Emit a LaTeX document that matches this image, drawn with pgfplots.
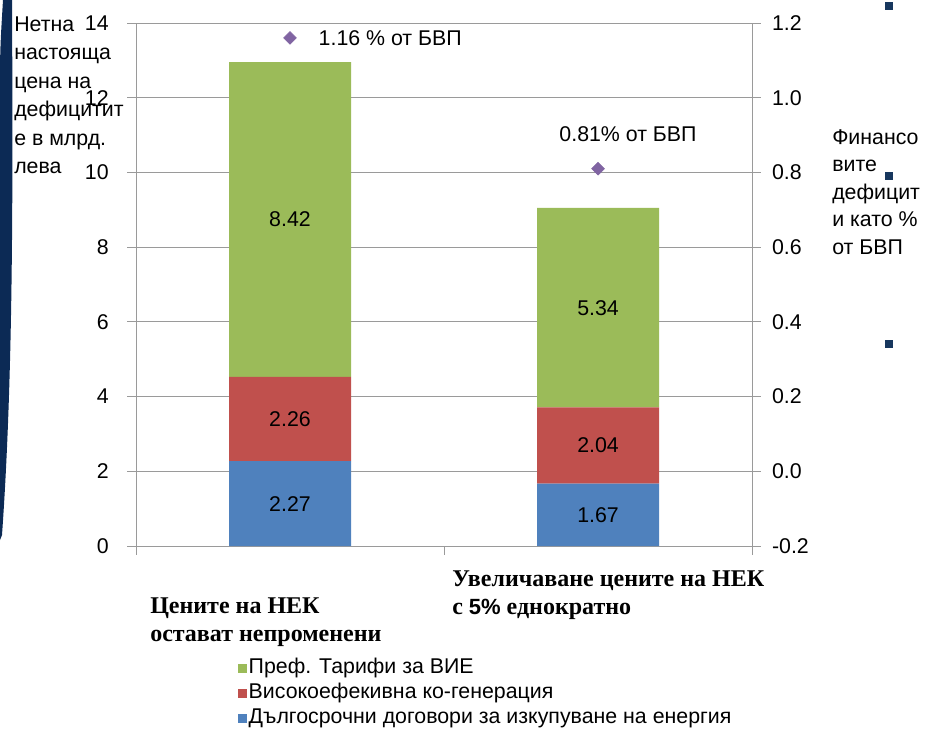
\documentclass[border=0pt]{standalone}
\usepackage{fontspec}
\setmainfont{Liberation Sans}
\newfontfamily\tnr{Liberation Serif}
\usepackage{pgfplots}
\pgfplotsset{compat=1.18}
\definecolor{greenC}{HTML}{9BBB59}
\definecolor{redC}{HTML}{C0504D}
\definecolor{blueC}{HTML}{4F81BD}
\definecolor{purpleC}{HTML}{8064A2}
\definecolor{gridC}{HTML}{9A9A9A}
\definecolor{navyC}{HTML}{0C2A55}
\definecolor{bulletC}{HTML}{17375E}
\newcommand\fs{\fontsize{16}{18}\selectfont}
\newcommand\tf{\fontsize{18}{21}\selectfont\tnr\bfseries}
\begin{document}
\begin{tikzpicture}
\begin{scope}[x=0.75pt,y=-0.75pt]
\path[use as bounding box] (0,0) rectangle (930,729);
\fill[navyC] (3,0) -- (12,0) .. controls (13,200) and (13,380) .. (2,535) -- (0,540) -- (0,100) .. controls (0,50) .. (3,0) -- cycle;
\fill[bulletC] (885,2) rectangle (893,10);
\fill[bulletC] (885,172) rectangle (893,180);
\fill[bulletC] (885,340) rectangle (893,348);
% left label
\node[anchor=base west, inner sep=0pt, font=\fs] at (14,31) {Нетна};
\node[anchor=base west, inner sep=0pt, font=\fs] at (14,59.5) {настояща};
\node[anchor=base west, inner sep=0pt, font=\fs] at (14,88) {цена на};
\node[anchor=base west, inner sep=0pt, font=\fs] at (14,116.5) {дефицитит};
\node[anchor=base west, inner sep=0pt, font=\fs] at (14,145) {е в млрд.};
\node[anchor=base west, inner sep=0pt, font=\fs] at (14,173.5) {лева};
% right label
\node[anchor=base west, inner sep=0pt, font=\fs] at (832,144) {Финансо};
\node[anchor=base west, inner sep=0pt, font=\fs] at (832,171.5) {вите};
\node[anchor=base west, inner sep=0pt, font=\fs] at (832,199) {дефицит};
\node[anchor=base west, inner sep=0pt, font=\fs] at (832,226.5) {и като \%};
\node[anchor=base west, inner sep=0pt, font=\fs] at (832,254) {от БВП};
% category labels
\node[anchor=base west, inner sep=0pt, font=\tf] at (150,613) {Цените на НЕК};
\node[anchor=base west, inner sep=0pt, font=\tf] at (150,641) {остават непроменени};
\node[anchor=base west, inner sep=0pt, font=\tf] at (452,586) {Увеличаване цените на НЕК};
\node[anchor=base west, inner sep=0pt, font=\tf] at (452,614) {с {\fontsize{16.5}{18}\selectfont\rmfamily\bfseries 5\%} еднократно};
\end{scope}

\begin{axis}[
  at={(102pt,-409.5pt)}, anchor=south west,
  scale only axis, width=462pt, height=392.25pt,
  ybar stacked, bar width=91.5pt,
  xmin=-0.5, xmax=1.5, ymin=0, ymax=14,
  xtick={-0.5,0.5,1.5}, xticklabels={},
  ytick={0,2,4,6,8,10,12,14},
  axis y line*=left, axis x line*=bottom,
  axis line style={-, gridC, line width=0.75pt},
  ymajorgrids, grid style={gridC, line width=0.75pt},
  tick style={gridC, line width=0.75pt},
  tick align=outside, major tick length=6.5pt,
  tick label style={font=\fs},
  yticklabel style={xshift=-10.5pt},
  /pgf/number format/assume math mode=true,
  reverse legend,
  legend cell align=left,
  legend style={at={(0.1656,-0.2094)}, anchor=north west, draw=none, fill=none,
    inner sep=0pt, font=\fs, row sep=0pt,
    nodes={inner sep=1.1pt, text height=12.5pt, text depth=4pt}},
  legend image code/.code={\fill[#1] (0pt,-3.4pt) rectangle (6.75pt,3.4pt);},
]
\addplot[fill=blueC, draw=none] coordinates {(0,2.27) (1,1.67)};
\addplot[fill=redC, draw=none] coordinates {(0,2.26) (1,2.04)};
\addplot[fill=greenC, draw=none] coordinates {(0,8.42) (1,5.34)};
\legend{Дългосрочни договори за изкупуване на енергия, Високоефекивна ко-генерация, Преф. Тарифи за ВИЕ}
\end{axis}

\begin{axis}[
  at={(102pt,-409.5pt)}, anchor=south west,
  scale only axis, width=462pt, height=392.25pt,
  xmin=-0.5, xmax=1.5, ymin=-0.2, ymax=1.2,
  axis y line*=right, axis x line=none,
  axis line style={-, gridC, line width=0.75pt},
  tick style={gridC, line width=0.75pt},
  tick align=outside, major tick length=6.5pt,
  ytick={-0.2,0,0.2,0.4,0.6,0.8,1.0,1.2},
  yticklabels={-0.2,0.0,0.2,0.4,0.6,0.8,1.0,1.2},
  tick label style={font=\fs},
  yticklabel style={xshift=5pt},
  clip=false,
]
\addplot[only marks, mark=square*, mark size=3.4pt,
  mark options={rotate=45, fill=purpleC, draw=purpleC}] coordinates {(0,1.16) (1,0.81)};
\node[font=\fs, anchor=west] at ([xshift=18pt]axis cs:0,1.16) {1.16 \% от БВП};
\node[font=\fs] at ([xshift=22.5pt, yshift=26pt]axis cs:1,0.81) {0.81\% от БВП};
% segment value labels (left scale y converted: r = -0.2 + 0.1*y)
\node[font=\fs] at (axis cs:0,-0.0865) {2.27};
\node[font=\fs] at (axis cs:0,0.140) {2.26};
\node[font=\fs] at (axis cs:0,0.674) {8.42};
\node[font=\fs] at (axis cs:1,-0.1165) {1.67};
\node[font=\fs] at (axis cs:1,0.069) {2.04};
\node[font=\fs] at (axis cs:1,0.438) {5.34};
\end{axis}
\end{tikzpicture}
\end{document}
